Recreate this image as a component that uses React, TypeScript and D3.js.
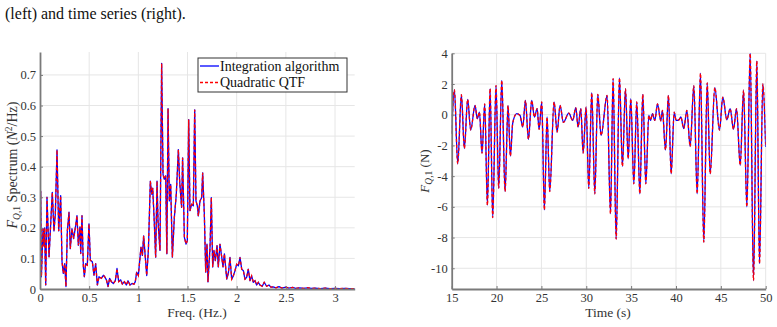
import React, { useEffect, useRef } from 'react';
import * as d3 from 'd3';

// spectrum of F_Q,1, [freq (Hz), amplitude (N^2/Hz)]
const spectrumData: [number, number][] = [
	[0, 0.12], [0.007, 0.32], [0.014, 0.04], [0.031, 0.197], [0.041, 0.14], [0.047, 0.2],
	[0.058, 0.013], [0.071, 0.3], [0.092, 0.105], [0.105, 0.19], [0.125, 0.316], [0.142, 0.19],
	[0.156, 0.246], [0.173, 0.455], [0.19, 0.19], [0.21, 0.305], [0.224, 0.089], [0.237, 0.051],
	[0.251, 0.083], [0.264, 0.008], [0.278, 0.19], [0.295, 0.251], [0.308, 0.132], [0.325, 0.197],
	[0.342, 0.165], [0.363, 0.208], [0.376, 0.24], [0.39, 0.143], [0.407, 0.203], [0.414, 0.116],
	[0.427, 0.24], [0.441, 0.073], [0.451, 0.04], [0.464, 0.083], [0.481, 0.078], [0.498, 0.213],
	[0.512, 0.094], [0.532, 0.089], [0.549, 0.045], [0.566, 0.083], [0.583, 0.013], [0.6, 0.04],
	[0.624, 0.035], [0.644, 0.045], [0.658, 0.04], [0.675, 0.03], [0.692, 0.008], [0.708, 0.035],
	[0.725, 0.024], [0.746, 0.018], [0.766, 0.027], [0.783, 0.067], [0.8, 0.024], [0.82, 0.03],
	[0.837, 0.016], [0.858, 0.024], [0.878, 0.013], [0.895, 0.027], [0.915, 0.013], [0.936, 0.018],
	[0.956, 0.016], [0.969, 0.024], [0.983, 0.055], [1.0, 0.044], [1.027, 0.137], [1.041, 0.11],
	[1.054, 0.174], [1.068, 0.115], [1.085, 0.044], [1.102, 0.126], [1.122, 0.353], [1.136, 0.31],
	[1.146, 0.33], [1.16, 0.234], [1.176, 0.104], [1.19, 0.353], [1.2, 0.223], [1.22, 0.126],
	[1.237, 0.738], [1.251, 0.375], [1.264, 0.359], [1.278, 0.37], [1.29, 0.115], [1.302, 0.59],
	[1.315, 0.288], [1.329, 0.342], [1.346, 0.104], [1.366, 0.234], [1.386, 0.31], [1.407, 0.456],
	[1.42, 0.353], [1.44, 0.267], [1.45, 0.429], [1.468, 0.169], [1.485, 0.147], [1.498, 0.158],
	[1.512, 0.554], [1.525, 0.256], [1.542, 0.277], [1.559, 0.272], [1.573, 0.586], [1.586, 0.288],
	[1.6, 0.272], [1.61, 0.239], [1.627, 0.288], [1.644, 0.299], [1.654, 0.38], [1.671, 0.245],
	[1.685, 0.055], [1.698, 0.147], [1.708, 0.023], [1.729, 0.137], [1.742, 0.299], [1.756, 0.072],
	[1.769, 0.126], [1.783, 0.093], [1.8, 0.142], [1.813, 0.072], [1.83, 0.147], [1.848, 0.104],
	[1.861, 0.072], [1.875, 0.115], [1.899, 0.032], [1.916, 0.054], [1.932, 0.103], [1.949, 0.032],
	[1.966, 0.043], [1.983, 0.06], [2.0, 0.081], [2.017, 0.076], [2.034, 0.103], [2.051, 0.065],
	[2.068, 0.06], [2.084, 0.032], [2.101, 0.038], [2.118, 0.065], [2.135, 0.027], [2.152, 0.043],
	[2.169, 0.022], [2.186, 0.027], [2.203, 0.013], [2.22, 0.022], [2.236, 0.013], [2.26, 0.009],
	[2.28, 0.022], [2.304, 0.009], [2.328, 0.013], [2.348, 0.006], [2.37, 0.007], [2.4, 0.004],
	[2.43, 0.008], [2.46, 0.003], [2.5, 0.006], [2.53, 0.003], [2.57, 0.005], [2.6, 0.002],
	[2.64, 0.004], [2.68, 0.002], [2.72, 0.004], [2.76, 0.002], [2.8, 0.003], [2.85, 0.001],
	[2.9, 0.003], [2.95, 0.001], [3.0, 0.002], [3.05, 0.001], [3.1, 0.002], [3.15, 0.001], [3.2, 0.001],
];

// time series of F_Q,1 (turning points), seconds
const timeSec = [
	15.0, 15.3, 15.67, 16.08, 16.41, 16.78, 17.12, 17.6, 17.86, 18.09,
	18.38, 18.68, 18.98, 19.28, 19.57, 19.94, 20.24, 20.58, 20.95, 21.28,
	21.54, 21.8, 22.25, 22.62, 22.92, 23.22, 23.55, 23.92, 24.22, 24.52,
	24.74, 25.04, 25.33, 25.63, 25.93, 26.41, 26.75, 27.08, 27.45, 28.05,
	28.49, 28.83, 29.09, 29.39, 29.65, 29.98, 30.28, 30.61, 30.95, 31.28,
	31.65, 32.32, 32.7, 32.99, 33.33, 33.7, 34.03, 34.37, 34.67, 34.96,
	35.3, 35.63, 35.97, 36.3, 36.64, 36.97, 37.16, 37.38, 37.64, 37.94,
	38.31, 38.49, 38.83, 39.16, 39.46, 39.8, 40.02, 40.32, 40.54, 40.87,
	41.21, 41.58, 41.99, 42.36, 42.73, 43.1, 43.48, 43.81, 44.33, 44.85,
	45.22, 45.67, 46.04, 46.41, 46.75, 47.16, 47.53, 47.9, 48.27, 48.64,
	49.01, 49.31, 49.68, 50.0,
];
// force (N)
const forceN = [
	-1.24, 1.63, -3.2, 1.3, -2.2, 1.0, -1.0, 0.6, -0.26, 0.17,
	-2.5, 0.7, -5.9, 1.7, -6.7, 1.9, -4.8, 2.24, -5.0, 0.6,
	-2.7, -0.55, 0.07, -0.05, -0.8, 0.93, -1.6, 0.93, -0.15, 0.4,
	-0.95, 0.83, -6.2, -0.15, -5.0, 0.83, -1.13, 0.6, -0.5, 0.1,
	-0.37, 0.46, -0.8, 0.4, -2.5, 0.5, -4.8, 1.43, -5.15, 1.33,
	-1.35, 1.26, -6.45, 2.35, -8.1, 2.4, -3.37, 1.7, -2.87, 1.04,
	-4.5, 0.83, -5.15, 1.33, -4.5, -0.04, -0.37, 0.07, -0.37, 0.7,
	-0.4, 0.28, -2.3, 1.26, -3.85, 0.17, -0.37, -0.33, -0.15, -0.9,
	0.28, -2.07, 1.9, -5.15, 2.7, -8.3, 2.07, -3.85, 1.76, -1.0,
	1.15, -0.33, 0.4, -0.95, 0.4, -3.3, 1.6, -6.0, 4.0, -10.8,
	3.5, -9.7, 2.0, -2.1,
];

const freqTicks = [0, 0.5, 1, 1.5, 2, 2.5, 3];
const specTicks = [0, 0.1, 0.2, 0.3, 0.4, 0.5, 0.6, 0.7];
const timeTicks = [15, 20, 25, 30, 35, 40, 45, 50];
const forceTicks = [-10, -8, -6, -4, -2, 0, 2, 4];
const legendLabels = ['Integration algorithm', 'Quadratic QTF'];

const FONT = '"Liberation Serif", "Times New Roman", serif';
const GRID = '#e6e6e6';
const AXIS = '#7a7a7a';
const TXT = '#333';

function drawPanel(svg, id, x, y, xTicks, yTicks, pts, curve) {
	const [l, r] = x.range();
	const [b, t] = y.range();
	const g = svg.append('g');

	// grid
	g.selectAll('.vgrid')
		.data(xTicks.filter((d) => x(d) > l + 1))
		.join('line')
		.attr('x1', (d) => x(d))
		.attr('x2', (d) => x(d))
		.attr('y1', t)
		.attr('y2', b)
		.attr('stroke', GRID);
	g.selectAll('.hgrid')
		.data(yTicks.filter((d) => y(d) < b - 1))
		.join('line')
		.attr('x1', l)
		.attr('x2', r)
		.attr('y1', (d) => y(d))
		.attr('y2', (d) => y(d))
		.attr('stroke', GRID);

	svg.append('clipPath').attr('id', id)
		.append('rect').attr('x', l).attr('y', t - 1).attr('width', r - l).attr('height', b - t + 1);

	const lineGen = d3.line<[number, number]>()
		.x((d) => x(d[0]))
		.y((d) => y(d[1]))
		.curve(curve);

	g.append('path').datum(pts)
		.attr('clip-path', `url(#${id})`)
		.attr('fill', 'none').attr('stroke', '#0000ff').attr('stroke-width', 1.3)
		.attr('stroke-linejoin', 'round')
		.attr('d', lineGen);
	g.append('path').datum(pts)
		.attr('clip-path', `url(#${id})`)
		.attr('fill', 'none').attr('stroke', '#ff0000').attr('stroke-width', 1.3)
		.attr('stroke-dasharray', '3,2.5')
		.attr('d', lineGen);

	// axes
	const xAxis = g.append('g')
		.attr('transform', `translate(0,${b})`)
		.call(d3.axisBottom(x).tickValues(xTicks).tickSize(-3).tickSizeOuter(0).tickPadding(4)
			.tickFormat((d) => String(d)));
	const yAxis = g.append('g')
		.attr('transform', `translate(${l},0)`)
		.call(d3.axisLeft(y).tickValues(yTicks).tickSize(-3).tickSizeOuter(0).tickPadding(4)
			.tickFormat((d) => String(d)));
	[xAxis, yAxis].forEach((a) => {
		a.attr('font-family', FONT).attr('font-size', 12.5);
		a.select('.domain').attr('stroke', AXIS).attr('stroke-width', 1.8);
		a.selectAll('.tick line').attr('stroke', AXIS);
		a.selectAll('.tick text').attr('fill', TXT);
	});
}

export default function App() {
	const svgRef = useRef<SVGSVGElement>(null);

	useEffect(() => {
		const svg = d3.select(svgRef.current);
		svg.selectAll('*').remove();

		// caption fragment
		svg.append('text')
			.attr('x', 5).attr('y', 19)
			.attr('font-family', FONT).attr('font-size', 16).attr('fill', '#111')
			.text('(left) and time series (right).');

		// left: spectrum
		const xs = d3.scaleLinear().domain([0, 3.2]).range([40, 354.7]);
		const ys = d3.scaleLinear().domain([0, 0.775]).range([289, 52]);
		drawPanel(svg, 'clipL', xs, ys, freqTicks, specTicks, spectrumData, d3.curveLinear);

		// right: time series
		const forceData: [number, number][] = timeSec.map((s, i) => [s, forceN[i]]);
		const xt = d3.scaleLinear().domain([15, 50]).range([451.7, 765.7]);
		const yt = d3.scaleLinear().domain([-11.35, 4]).range([289, 53.3]);
		drawPanel(svg, 'clipR', xt, yt, timeTicks, forceTicks, forceData, d3.curveMonotoneX);

		// axis labels
		svg.append('text')
			.attr('x', 197).attr('y', 317).attr('text-anchor', 'middle')
			.attr('font-family', FONT).attr('font-size', 13.5).attr('fill', TXT)
			.text('Freq. (Hz.)');
		svg.append('text')
			.attr('x', 608).attr('y', 317).attr('text-anchor', 'middle')
			.attr('font-family', FONT).attr('font-size', 13.5).attr('fill', TXT)
			.text('Time (s)');
		svg.append('text')
			.attr('transform', 'translate(17,165) rotate(-90)')
			.attr('text-anchor', 'middle')
			.attr('font-family', FONT).attr('font-size', 14).attr('fill', TXT)
			.html('<tspan font-style="italic">F</tspan><tspan dy="3" font-size="9.5"><tspan font-style="italic">Q</tspan>,1</tspan><tspan dy="-3"> Spectrum (</tspan><tspan font-style="italic">N</tspan><tspan dy="-5" font-size="9.5">2</tspan><tspan dy="5">/Hz)</tspan>');
		svg.append('text')
			.attr('transform', 'translate(429,171) rotate(-90)')
			.attr('text-anchor', 'middle')
			.attr('font-family', FONT).attr('font-size', 13).attr('fill', TXT)
			.html('<tspan font-style="italic">F</tspan><tspan dy="3" font-size="9.5"><tspan font-style="italic">Q</tspan>,1</tspan><tspan dy="-3"> (N)</tspan>');

		// legend
		const lg = svg.append('g').attr('transform', 'translate(198,58)');
		lg.append('rect').attr('width', 149).attr('height', 34)
			.attr('fill', '#fff').attr('stroke', '#333').attr('stroke-width', 1);
		const rows = lg.selectAll('.row').data(legendLabels).join('g')
			.attr('transform', (_, i) => `translate(0,${8 + i * 16.5})`);
		rows.append('line')
			.attr('x1', 2).attr('x2', 21).attr('y1', 0).attr('y2', 0)
			.attr('stroke', (_, i) => (i === 0 ? '#0000ff' : '#ff0000'))
			.attr('stroke-width', 1.3)
			.attr('stroke-dasharray', (_, i) => (i === 0 ? null : '3,2'));
		rows.append('text')
			.attr('x', 22).attr('y', 4.5)
			.attr('font-family', FONT).attr('font-size', 14).attr('fill', '#111')
			.text((d) => d);
	}, []);

	return (
		<svg
			ref={svgRef}
			width={777}
			height={327}
			style={{ position: 'absolute', left: 0, top: 0, background: '#fff' }}
		/>
	);
}
